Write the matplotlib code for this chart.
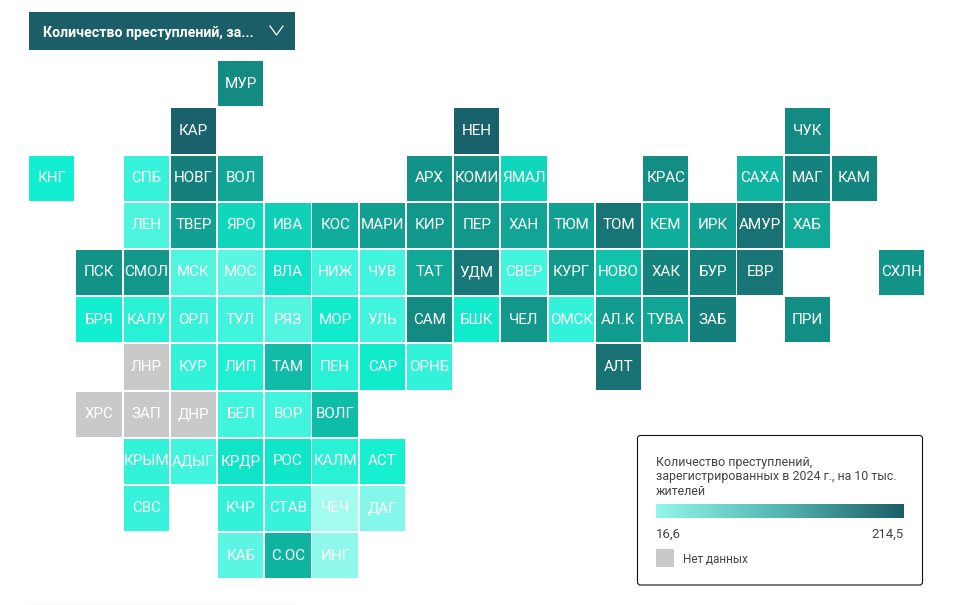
import numpy as np
import matplotlib
matplotlib.use('Agg')
import matplotlib.pyplot as plt
from matplotlib.colors import LinearSegmentedColormap, Normalize
from matplotlib.patches import Rectangle, FancyBboxPatch

plt.rcParams['font.family'] = ['Roboto', 'DejaVu Sans']

# tile grid, one list per row, '' / _ where there is no region
_ = None
NA = float('nan')  # region exists but has no data
labels = [
    ['', '', '', '', 'МУР', '', '', '', '', '', '', '', '', '', '', '', '', '', ''],
    ['', '', '', 'КАР', '', '', '', '', '', 'НЕН', '', '', '', '', '', '', 'ЧУК', '', ''],
    ['КНГ', '', 'СПБ', 'НОВГ', 'ВОЛ', '', '', '', 'АРХ', 'КОМИ', 'ЯМАЛ', '', '', 'КРАС', '', 'САХА', 'МАГ', 'КАМ', ''],
    ['', '', 'ЛЕН', 'ТВЕР', 'ЯРО', 'ИВА', 'КОС', 'МАРИ', 'КИР', 'ПЕР', 'ХАН', 'ТЮМ', 'ТОМ', 'КЕМ', 'ИРК', 'АМУР', 'ХАБ', '', ''],
    ['', 'ПСК', 'СМОЛ', 'МСК', 'МОС', 'ВЛА', 'НИЖ', 'ЧУВ', 'ТАТ', 'УДМ', 'СВЕР', 'КУРГ', 'НОВО', 'ХАК', 'БУР', 'ЕВР', '', '', 'СХЛН'],
    ['', 'БРЯ', 'КАЛУ', 'ОРЛ', 'ТУЛ', 'РЯЗ', 'МОР', 'УЛЬ', 'САМ', 'БШК', 'ЧЕЛ', 'ОМСК', 'АЛ.К', 'ТУВА', 'ЗАБ', '', 'ПРИ', '', ''],
    ['', '', 'ЛНР', 'КУР', 'ЛИП', 'ТАМ', 'ПЕН', 'САР', 'ОРНБ', '', '', '', 'АЛТ', '', '', '', '', '', ''],
    ['', 'ХРС', 'ЗАП', 'ДНР', 'БЕЛ', 'ВОР', 'ВОЛГ', '', '', '', '', '', '', '', '', '', '', '', ''],
    ['', '', 'КРЫМ', 'АДЫГ', 'КРДР', 'РОС', 'КАЛМ', 'АСТ', '', '', '', '', '', '', '', '', '', '', ''],
    ['', '', 'СВС', '', 'КЧР', 'СТАВ', 'ЧЕЧ', 'ДАГ', '', '', '', '', '', '', '', '', '', '', ''],
    ['', '', '', '', 'КАБ', 'С.ОС', 'ИНГ', '', '', '', '', '', '', '', '', '', '', '', ''],
]
values = [
    [_, _, _, _, 140, _, _, _, _, _, _, _, _, _, _, _, _, _, _],
    [_, _, _, 205, _, _, _, _, _, 205, _, _, _, _, _, _, 140, _, _],
    [52, _, 40, 155, 110, _, _, _, 130, 135, 70, _, _, 135, _, 95, 150, 145, _],
    [_, _, 35, 115, 70, 75, 100, 115, 125, 125, 110, 115, 170, 100, 115, 175, 105, _, _],
    [_, 130, 125, 34, 32, 60, 38, 38, 105, 165, 38, 125, 85, 150, 150, 170, _, _, 130],
    [_, 52, 45, 40, 38, 33, 55, 38, 140, 55, 125, 42, 120, 110, 155, _, 135, _, _],
    [_, _, NA, 42, 48, 90, 45, 55, 42, _, _, _, 175, _, _, _, _, _, _],
    [_, NA, NA, NA, 38, 38, 90, _, _, _, _, _, _, _, _, _, _, _, _],
    [_, _, 42, 38, 60, 58, 45, 50, _, _, _, _, _, _, _, _, _, _, _],
    [_, _, 40, _, 42, 40, 16.6, 24, _, _, _, _, _, _, _, _, _, _, _],
    [_, _, _, _, 32, 95, 22, _, _, _, _, _, _, _, _, _, _, _, _],
]
v_min = 16.6
v_max = 214.5

DARK = '#1b5e68'
GREY = '#c9c9c9'

tile_cmap = LinearSegmentedColormap.from_list('tiles', [
    (0.0, '#a4fbef'), (0.04, '#7ff8e9'), (0.07, '#5ef6e2'), (0.11, '#3cf4dc'), (0.18, '#10eecf'),
    (0.42, '#0fae9c'), (0.62, '#138a82'), (0.82, '#186f72'), (1.0, DARK)])
legend_cmap = LinearSegmentedColormap.from_list('legend', ['#90f7ea', '#54b6b1', DARK])
norm = Normalize(v_min, v_max)

fig = plt.figure(figsize=(9.61, 6.05), dpi=100)

# page layer in pixel coords, for the dropdown and the legend
page = fig.add_axes([0, 0, 1, 1])
page.axis('off')

# tile layer, one unit per grid cell
left, pitch_x = 28.2, 47.22
top, pitch_y = 60.2, 47.2
n_rows, n_cols = len(labels), len(labels[0])
grid = fig.add_axes([left / 961, 1 - (top + n_rows * pitch_y) / 605,
                     n_cols * pitch_x / 961, n_rows * pitch_y / 605])
grid.set_xlim(0, n_cols)
grid.set_ylim(n_rows, 0)
grid.axis('off')

for r in range(n_rows):
    for c in range(n_cols):
        v = values[r][c]
        if v is None:
            continue
        color = GREY if np.isnan(v) else tile_cmap(norm(v))
        grid.add_patch(Rectangle((c + 0.02, r + 0.02), 0.96, 0.96, facecolor=color, edgecolor='none'))
        # text sits a bit above the tile centre in the original
        grid.text(c + 0.5, r + 0.465, labels[r][c], color='white', fontsize=10.9,
                  ha='center', va='center_baseline')

# dropdown
page.add_patch(Rectangle((29, 12), 266, 38, facecolor=DARK, edgecolor='none'))
page.text(43, 31, 'Количество преступлений, за...', color='white', fontsize=10.2,
          fontweight='bold', va='center_baseline')
page.plot([270, 276.5, 283], [26, 35, 26], color='white', lw=0.9)
page.plot([29, 295], [604.5, 604.5], color='#dddddd', lw=1)

# legend box
page.add_patch(FancyBboxPatch((637.5, 435.5), 285, 149.5, boxstyle='round,pad=0,rounding_size=3',
                              facecolor='white', edgecolor='#111111', lw=0.8))
for y, line in zip([461, 475, 490], ['Количество преступлений,',
                                     'зарегистрированных в 2024 г., на 10 тыс.',
                                     'жителей']):
    page.text(656, y, line, color='#444444', fontsize=8.9, va='center_baseline')
page.imshow(np.linspace(0, 1, 256)[None, :], cmap=legend_cmap, aspect='auto',
            extent=(656, 904, 518, 504), zorder=3)
page.text(656, 533, '16,6', color='#444444', fontsize=9.5, va='center_baseline')
page.text(904, 533, '214,5', color='#444444', fontsize=9.5, ha='right', va='center_baseline')
page.add_patch(Rectangle((656, 549), 17.5, 18, facecolor=GREY, edgecolor='none'))
page.text(683, 558, 'Нет данных', color='#444444', fontsize=8.5, va='center_baseline')

page.set_xlim(0, 961)
page.set_ylim(605, 0)

fig.savefig('out.png', dpi=100)
